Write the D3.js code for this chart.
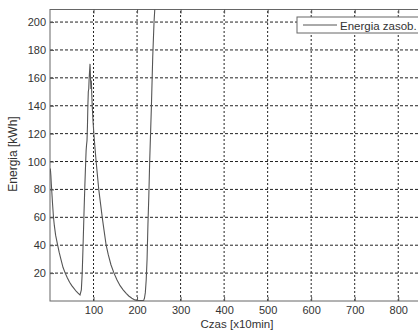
<!DOCTYPE html>
<html>
<head>
<meta charset="utf-8">
<script src="https://cdn.jsdelivr.net/npm/d3@7"></script>
<style>
  body { margin: 0; background: #fff; }
  svg { display: block; font-family: "Liberation Sans", Arial, sans-serif; }
</style>
</head>
<body>
<div id="app"></div>
<script>
// time [x10min] and stored energy [kWh]
const czas = [0, 1, 2, 3, 4, 6, 8, 10, 13, 17, 21, 25, 30, 35, 40, 45, 50, 55, 60, 65, 69,
  72, 74, 76, 78, 80, 82, 83, 84, 85, 86, 87, 88, 89, 90, 91, 92, 93, 94, 95, 96,
  97, 99, 101, 103, 106, 109, 112, 116, 120, 124, 129, 134, 140, 147, 154, 161, 168, 175, 181, 188, 195, 200, 215,
  217, 219, 221, 223, 225, 227, 229, 231, 233, 236, 239, 242, 245];
const energia = [95, 94, 90, 84, 79, 69, 60, 54, 47, 41, 35, 30, 24, 20, 16.5, 13.5, 11, 9, 7, 5.5, 4.3,
  8, 20, 40, 62, 82, 100, 108, 112, 115, 125, 140, 150, 152, 160, 165, 170, 160, 152, 158, 148,
  140, 128, 119, 111, 100, 90, 80, 70, 60, 51, 40, 33, 26, 20, 15, 11, 8, 5.5, 3.6, 2, 0.8, 0.3, 0.3,
  2, 6, 15, 30, 55, 75, 100, 120, 140, 175, 200, 216, 235];
const xTicks = [100, 200, 300, 400, 500, 600, 700, 800];
const yTicks = [20, 40, 60, 80, 100, 120, 140, 160, 180, 200];
const seriesName = 'Energia zasob.';

const w = 418, h = 330;
const font = '"Liberation Sans", Arial, sans-serif';

const x = d3.scaleLinear().domain([0, 850]).range([50, 420]);
const y = d3.scaleLinear().domain([0, 209]).range([301, 9.5]);

const svg = d3.select('#app').append('svg')
  .attr('width', w)
  .attr('height', h);

svg.append('defs').append('clipPath')
  .attr('id', 'plot-clip')
  .append('rect')
  .attr('x', x(0)).attr('y', y(209))
  .attr('width', x(850) - x(0)).attr('height', y(0) - y(209));

// grid
svg.append('g')
  .selectAll('line')
  .data(xTicks)
  .join('line')
  .attr('x1', d => x(d)).attr('x2', d => x(d))
  .attr('y1', y(0)).attr('y2', y(209))
  .attr('stroke', '#222')
  .attr('stroke-dasharray', '2,2');

svg.append('g')
  .selectAll('line')
  .data(yTicks)
  .join('line')
  .attr('x1', x(0)).attr('x2', x(850))
  .attr('y1', d => y(d)).attr('y2', d => y(d))
  .attr('stroke', '#222')
  .attr('stroke-dasharray', '3,2');

// frame
svg.append('rect')
  .attr('x', x(0)).attr('y', y(209))
  .attr('width', x(850) - x(0)).attr('height', y(0) - y(209))
  .attr('fill', 'none')
  .attr('stroke', '#666');

// axes, ticks pointing inward
svg.append('g')
  .attr('transform', `translate(0,${y(0)})`)
  .call(d3.axisBottom(x).tickValues(xTicks).tickSize(-4).tickPadding(5).tickSizeOuter(0));

svg.append('g')
  .attr('transform', `translate(0,${y(209)})`)
  .call(d3.axisTop(x).tickValues(xTicks).tickSize(-4).tickFormat('').tickSizeOuter(0));

svg.append('g')
  .attr('transform', `translate(${x(0)},0)`)
  .call(d3.axisLeft(y).tickValues(yTicks).tickSize(-4).tickPadding(4).tickSizeOuter(0));

svg.selectAll('.domain').remove();
svg.selectAll('.tick line').attr('stroke', '#555');
svg.selectAll('.tick text')
  .attr('fill', '#333')
  .style('font-size', '11px')
  .style('font-family', font);

// series
const line = d3.line()
  .x((d, i) => x(czas[i]))
  .y(d => y(d));

svg.append('path')
  .datum(energia)
  .attr('clip-path', 'url(#plot-clip)')
  .attr('fill', 'none')
  .attr('stroke', '#555')
  .attr('stroke-width', 1.1)
  .attr('d', line);

// axis labels
svg.append('text')
  .attr('x', 237)
  .attr('y', 328)
  .attr('text-anchor', 'middle')
  .attr('fill', '#333')
  .style('font-size', '11.5px')
  .text('Czas [x10min]');

svg.append('text')
  .attr('transform', 'translate(17,154) rotate(-90)')
  .attr('text-anchor', 'middle')
  .attr('fill', '#333')
  .style('font-size', '12px')
  .text('Energia [kWh]');

// legend
const legend = svg.append('g');
legend.append('rect')
  .attr('x', 297).attr('y', 17)
  .attr('width', 140).attr('height', 16)
  .attr('fill', '#fff')
  .attr('stroke', '#666');
legend.append('line')
  .attr('x1', 303).attr('x2', 337)
  .attr('y1', 25).attr('y2', 25)
  .attr('stroke', '#555');
legend.append('text')
  .attr('x', 340).attr('y', 29.5)
  .attr('fill', '#333')
  .style('font-size', '11.5px')
  .text(seriesName);
</script>
</body>
</html>
